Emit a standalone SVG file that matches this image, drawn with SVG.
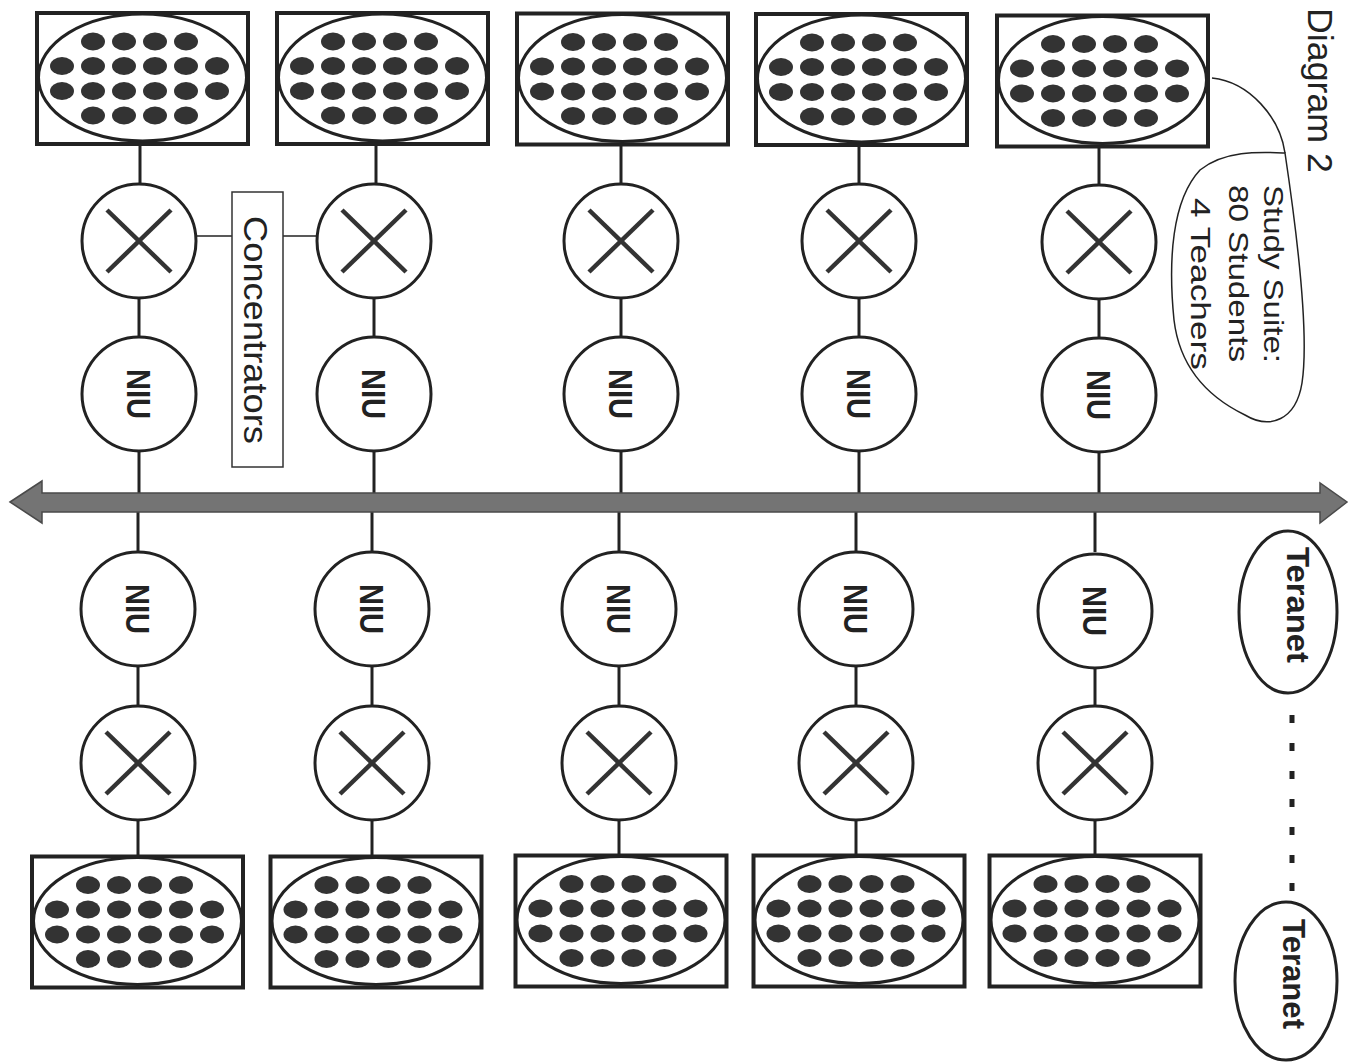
<svg xmlns="http://www.w3.org/2000/svg" xmlns:xlink="http://www.w3.org/1999/xlink" width="1355" height="1062" viewBox="0 0 1355 1062">
<style>
.box{fill:#fff;stroke:#222;stroke-width:4}
.oval{fill:#fff;stroke:#222;stroke-width:3}
.dot{fill:#333}
.circ{fill:#fff;stroke:#222;stroke-width:3}
.x{stroke:#333;stroke-width:4.5;fill:none}
.wire{stroke:#222;stroke-width:3;fill:none}
.thin{stroke:#222;stroke-width:1.5;fill:none}
.niu{font-family:"Liberation Sans",Arial,sans-serif;font-weight:bold;font-size:33px;fill:#222}
.lbl{font-family:"Liberation Sans",Arial,sans-serif;fill:#222}
</style>
<defs>
<g id="dots">
<ellipse class="dot" cx="-46.5" cy="-37" rx="12" ry="9"/><ellipse class="dot" cx="-15.5" cy="-37" rx="12" ry="9"/><ellipse class="dot" cx="15.5" cy="-37" rx="12" ry="9"/><ellipse class="dot" cx="46.5" cy="-37" rx="12" ry="9"/>
<ellipse class="dot" cx="-77.5" cy="-12.5" rx="12" ry="9"/><ellipse class="dot" cx="-46.5" cy="-12.5" rx="12" ry="9"/><ellipse class="dot" cx="-15.5" cy="-12.5" rx="12" ry="9"/><ellipse class="dot" cx="15.5" cy="-12.5" rx="12" ry="9"/><ellipse class="dot" cx="46.5" cy="-12.5" rx="12" ry="9"/><ellipse class="dot" cx="77.5" cy="-12.5" rx="12" ry="9"/>
<ellipse class="dot" cx="-77.5" cy="12.5" rx="12" ry="9"/><ellipse class="dot" cx="-46.5" cy="12.5" rx="12" ry="9"/><ellipse class="dot" cx="-15.5" cy="12.5" rx="12" ry="9"/><ellipse class="dot" cx="15.5" cy="12.5" rx="12" ry="9"/><ellipse class="dot" cx="46.5" cy="12.5" rx="12" ry="9"/><ellipse class="dot" cx="77.5" cy="12.5" rx="12" ry="9"/>
<ellipse class="dot" cx="-46.5" cy="37" rx="12" ry="9"/><ellipse class="dot" cx="-15.5" cy="37" rx="12" ry="9"/><ellipse class="dot" cx="15.5" cy="37" rx="12" ry="9"/><ellipse class="dot" cx="46.5" cy="37" rx="12" ry="9"/>
</g>
<g id="room">
<rect class="box" x="-105.5" y="-65.5" width="211" height="131"/>
<ellipse class="oval" cx="0" cy="-1" rx="104" ry="63.5"/>
<use xlink:href="#dots" x="-3" y="0"/>
</g>
<g id="xc">
<circle class="circ" cx="0" cy="0" r="57"/>
<line class="x" x1="-32" y1="-31" x2="32" y2="31"/>
<line class="x" x1="-32" y1="31" x2="32" y2="-31"/>
</g>
<g id="niuc">
<circle class="circ" cx="0" cy="0" r="57"/>
<text class="niu" x="0" y="12" text-anchor="middle" textLength="50" lengthAdjust="spacingAndGlyphs" transform="rotate(90)">NIU</text>
</g>
</defs>

<g id="connectors">
<line class="wire" x1="140" y1="144" x2="140" y2="184"/><line class="wire" x1="139" y1="298" x2="139" y2="337"/><line class="wire" x1="139" y1="451" x2="139" y2="493"/>
<line class="wire" x1="376" y1="144" x2="376" y2="184"/><line class="wire" x1="374" y1="298" x2="374" y2="337"/><line class="wire" x1="374" y1="451" x2="374" y2="493"/>
<line class="wire" x1="621" y1="144" x2="621" y2="184"/><line class="wire" x1="621" y1="298" x2="621" y2="337"/><line class="wire" x1="621" y1="451" x2="621" y2="493"/>
<line class="wire" x1="859" y1="145" x2="859" y2="184"/><line class="wire" x1="859" y1="298" x2="859" y2="337"/><line class="wire" x1="859" y1="451" x2="859" y2="493"/>
<line class="wire" x1="1099" y1="147" x2="1099" y2="185"/><line class="wire" x1="1099" y1="299" x2="1099" y2="338"/><line class="wire" x1="1099" y1="452" x2="1099" y2="493"/>
<line class="wire" x1="138" y1="512" x2="138" y2="552"/><line class="wire" x1="138" y1="666" x2="138" y2="706"/><line class="wire" x1="138" y1="820" x2="138" y2="857"/>
<line class="wire" x1="372" y1="512" x2="372" y2="552"/><line class="wire" x1="372" y1="666" x2="372" y2="706"/><line class="wire" x1="372" y1="820" x2="372" y2="857"/>
<line class="wire" x1="619" y1="512" x2="619" y2="552"/><line class="wire" x1="619" y1="666" x2="619" y2="706"/><line class="wire" x1="619" y1="820" x2="619" y2="856"/>
<line class="wire" x1="856" y1="512" x2="856" y2="552"/><line class="wire" x1="856" y1="666" x2="856" y2="706"/><line class="wire" x1="856" y1="820" x2="856" y2="856"/>
<line class="wire" x1="1095" y1="512" x2="1095" y2="552"/><line class="wire" x1="1095" y1="666" x2="1095" y2="706"/><line class="wire" x1="1095" y1="820" x2="1095" y2="856"/>
<line class="thin" x1="196" y1="236" x2="232" y2="236"/>
<line class="thin" x1="283" y1="236" x2="318" y2="236"/>
<line x1="1292" y1="715" x2="1292" y2="895" stroke="#222" stroke-width="5" stroke-dasharray="8 20"/>
<path class="thin" d="M1212,78 C1250,82 1280,118 1285,153"/>
</g>

<g id="backbone">
<path d="M10,502 L42,481 L42,493 L1320,493 L1320,483 L1347,502 L1320,523 L1320,512 L42,512 L42,523 Z" fill="#747474" stroke="#4a4a4a" stroke-width="1.5"/>
</g>

<g id="rooms-top">
<use id="room-t1" xlink:href="#room" x="142.5" y="78.5"/>
<use id="room-t2" xlink:href="#room" x="382.5" y="78.5"/>
<use id="room-t3" xlink:href="#room" x="622.5" y="79"/>
<use id="room-t4" xlink:href="#room" x="861.5" y="79.5"/>
<use id="room-t5" xlink:href="#room" x="1102.5" y="81"/>
</g>
<g id="conc-top">
<use id="x-t1" xlink:href="#xc" x="139" y="241"/>
<use id="x-t2" xlink:href="#xc" x="374" y="241"/>
<use id="x-t3" xlink:href="#xc" x="621" y="241"/>
<use id="x-t4" xlink:href="#xc" x="859" y="241"/>
<use id="x-t5" xlink:href="#xc" x="1099" y="242"/>
</g>
<g id="niu-top">
<use id="niu-t1" xlink:href="#niuc" x="139" y="394"/>
<use id="niu-t2" xlink:href="#niuc" x="374" y="394"/>
<use id="niu-t3" xlink:href="#niuc" x="621" y="394"/>
<use id="niu-t4" xlink:href="#niuc" x="859" y="394"/>
<use id="niu-t5" xlink:href="#niuc" x="1099" y="395"/>
</g>
<g id="niu-bottom">
<use id="niu-b1" xlink:href="#niuc" x="138" y="609"/>
<use id="niu-b2" xlink:href="#niuc" x="372" y="609"/>
<use id="niu-b3" xlink:href="#niuc" x="619" y="609"/>
<use id="niu-b4" xlink:href="#niuc" x="856" y="609"/>
<use id="niu-b5" xlink:href="#niuc" x="1095" y="611"/>
</g>
<g id="conc-bottom">
<use id="x-b1" xlink:href="#xc" x="138" y="763"/>
<use id="x-b2" xlink:href="#xc" x="372" y="763"/>
<use id="x-b3" xlink:href="#xc" x="619" y="763"/>
<use id="x-b4" xlink:href="#xc" x="856" y="763"/>
<use id="x-b5" xlink:href="#xc" x="1095" y="763"/>
</g>
<g id="rooms-bottom">
<use id="room-b1" xlink:href="#room" x="137.5" y="922"/>
<use id="room-b2" xlink:href="#room" x="376" y="922"/>
<use id="room-b3" xlink:href="#room" x="621" y="921"/>
<use id="room-b4" xlink:href="#room" x="859" y="921"/>
<use id="room-b5" xlink:href="#room" x="1095" y="921"/>
</g>

<g id="concentrators-label">
<rect x="232" y="192" width="51" height="275" fill="#fff" stroke="#333" stroke-width="1.5"/>
<text class="lbl" x="330" y="-244" font-size="33" text-anchor="middle" textLength="228" lengthAdjust="spacingAndGlyphs" transform="rotate(90)">Concentrators</text>
</g>

<g id="study-suite">
<path class="thin" d="M1285,153 C1295,220 1310,330 1302,383 C1296,420 1270,430 1245,415 C1210,398 1180,370 1174,320 C1168,260 1172,200 1200,170 C1225,150 1260,152 1285,153 Z"/>
<text class="lbl" x="185" y="-1264" font-size="28" textLength="178" lengthAdjust="spacingAndGlyphs" transform="rotate(90)">Study Suite:</text>
<text class="lbl" x="185" y="-1229" font-size="28" textLength="177" lengthAdjust="spacingAndGlyphs" transform="rotate(90)">80 Students</text>
<text class="lbl" x="198" y="-1191" font-size="28" textLength="172" lengthAdjust="spacingAndGlyphs" transform="rotate(90)">4 Teachers</text>
</g>

<g id="title">
<text class="lbl" x="8" y="-1308" font-size="35" textLength="165" lengthAdjust="spacingAndGlyphs" transform="rotate(90)">Diagram 2</text>
</g>

<g id="teranet-1">
<ellipse cx="1288" cy="612" rx="49" ry="81" fill="#fff" stroke="#222" stroke-width="3"/>
<text class="lbl" x="605" y="-1287" font-size="31" font-weight="bold" text-anchor="middle" textLength="116" lengthAdjust="spacingAndGlyphs" transform="rotate(90)">Teranet</text>
</g>
<g id="teranet-2">
<ellipse cx="1286" cy="981" rx="51" ry="79" fill="#fff" stroke="#222" stroke-width="3"/>
<text class="lbl" x="974" y="-1283" font-size="31" font-weight="bold" text-anchor="middle" textLength="110" lengthAdjust="spacingAndGlyphs" transform="rotate(90)">Teranet</text>
</g>
</svg>
